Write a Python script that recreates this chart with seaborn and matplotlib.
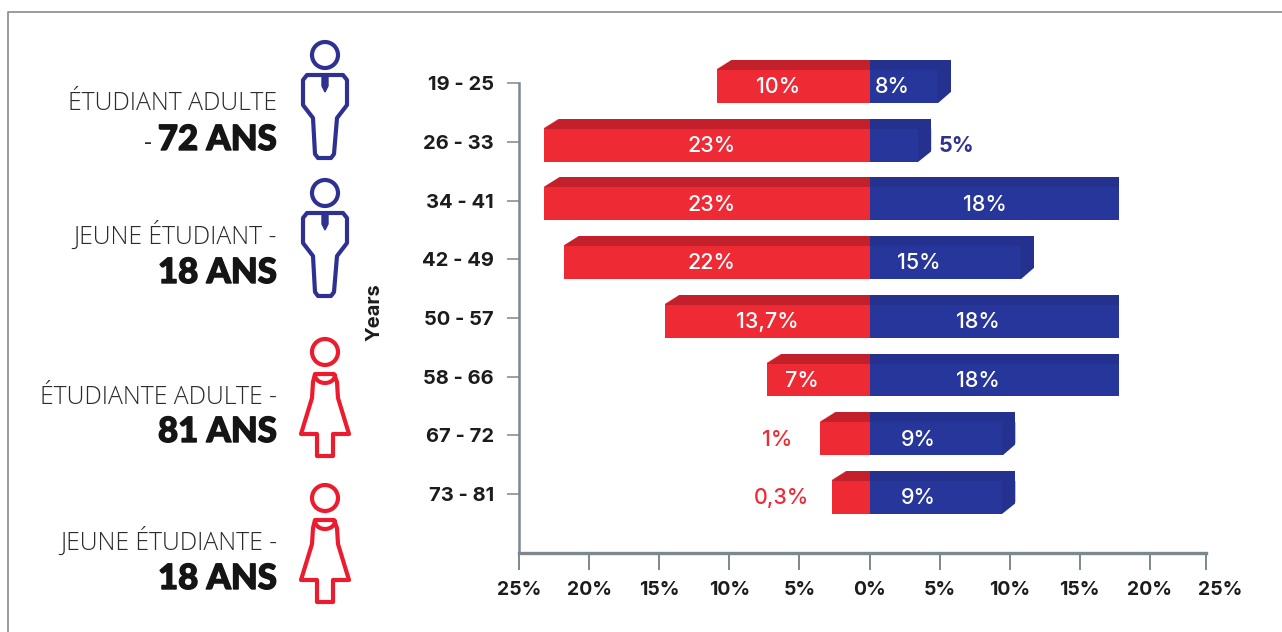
import numpy as np
import matplotlib
matplotlib.use('Agg')
import matplotlib.pyplot as plt
import matplotlib.patheffects as pe
from matplotlib.patches import Circle, Polygon
from matplotlib.lines import Line2D
import seaborn as sns

# values
ages = ['19 - 25', '26 - 33', '34 - 41', '42 - 49', '50 - 57', '58 - 66', '67 - 72', '73 - 81']
red_len = [10.9, 23.2, 23.2, 21.8, 14.6, 7.3, 3.5, 2.7]
blue_len = [5.8, 4.4, 17.8, 11.7, 17.8, 17.8, 10.4, 10.4]
red_labels = ['10%', '23%', '23%', '22%', '13,7%', '7%', '1%', '0,3%']
blue_labels = ['8%', '5%', '18%', '15%', '18%', '18%', '9%', '9%']
x_ticks = [-25, -20, -15, -10, -5, 0, 5, 10, 15, 20, 25]
x_labels = ['25%', '20%', '15%', '10%', '5%', '0%', '5%', '10%', '15%', '20%', '25%']

# label centres along the x axis, not tied to bar length in the original
red_label_x = [-6.5, -11.3, -11.3, -11.3, -7.3, -4.8, -6.6, -6.3]
blue_label_x = [1.6, 6.2, 8.2, 3.5, 7.7, 7.7, 3.5, 3.5]

RED = '#ee2a35'
RED_TOP = '#c2202b'
BLUE = '#26369a'
BLUE_TOP = '#24318e'
GRAY = '#7c888d'
TXT = '#1c1c1c'
NAVY = '#2f3192'
ICON_RED = '#ec1c2e'

sns.set_theme(style='white')
plt.rcParams['font.family'] = ['Inter', 'DejaVu Sans']

fig = plt.figure(figsize=(12.82, 6.32), dpi=100)
ax = fig.add_axes([519 / 1282, (632 - 553) / 632, (1220 - 519) / 1282, (553 - 50) / 632])

sns.barplot(y=ages, x=-np.array(red_len), color=RED, saturation=1, width=0.73, linewidth=0, ax=ax)
sns.barplot(y=ages, x=blue_len, color=BLUE, saturation=1, width=0.73, linewidth=0, ax=ax)

ax.set_xlim(-25, 25)
row = 58.7
ax.set_ylim((553 - 81.5) / row, (50 - 81.5) / row)

# bevels on the bars
half = 0.365
band = 0.17
cut_x = 1.1
for i, (r, b) in enumerate(zip(red_len, blue_len)):
    top = i - half
    bot = i + half
    ax.add_patch(Polygon([(-r + cut_x, top), (0, top), (0, top + band), (-r, top + band)],
                         color=RED_TOP, lw=0, zorder=4))
    ax.add_patch(Polygon([(-r - 0.1, top - 0.01), (-r + cut_x, top - 0.01), (-r - 0.1, top + band)],
                         color='white', lw=0, zorder=4))
    ax.add_patch(Polygon([(0, top), (b, top), (b, top + band), (0, top + band)],
                         color=BLUE_TOP, lw=0, zorder=4))
    if b < 17:
        # side face and clipped lower corner
        ax.add_patch(Polygon([(b - 0.95, top + band), (b, top + band), (b, bot - 0.2), (b - 0.95, bot)],
                             color=BLUE_TOP, lw=0, zorder=4))
        ax.add_patch(Polygon([(b + 0.1, bot - 0.2), (b + 0.1, bot + 0.01), (b - 0.95, bot + 0.01)],
                             color='white', lw=0, zorder=4))

# bar labels
for i in range(len(ages)):
    red_col = RED if red_len[i] < 4 else 'white'
    blue_col = NAVY if blue_len[i] < 5 else 'white'
    ax.text(red_label_x[i], i + 0.1, red_labels[i], color=red_col, fontsize=15.5,
            fontweight='medium', ha='center', va='center', zorder=5)
    ax.text(blue_label_x[i], i + 0.1, blue_labels[i], color=blue_col, fontsize=15.5,
            fontweight='bold' if blue_len[i] < 5 else 'medium', ha='center', va='center', zorder=5)

# axes
sns.despine(ax=ax)
ax.spines['left'].set_color(GRAY)
ax.spines['bottom'].set_color(GRAY)
ax.spines['left'].set_linewidth(1.8)
ax.spines['bottom'].set_linewidth(2.4)
ax.spines['left'].set_bounds(0.03, (553 - 81.5) / row)
ax.spines['bottom'].set_bounds(-25, 24)

ax.set_yticks(np.arange(len(ages)) + 0.03)
ax.set_yticklabels(ages, fontsize=14.5, fontweight='bold', color=TXT)
ax.set_xticks(x_ticks)
ax.set_xticklabels(x_labels, fontsize=14, fontweight='bold', color=TXT)
ax.set_xticks([24], minor=True)
ax.tick_params(axis='y', length=9, width=1.1, color=GRAY, pad=9, left=True)
ax.tick_params(axis='x', which='both', length=12, width=1.4, color=GRAY, pad=8, bottom=True)
# last label sits past the end of the axis line, so its own tick stays hidden
ax.xaxis.get_major_ticks()[-1].tick1line.set_visible(False)
ax.set_xlabel('')
ax.set_ylabel('')

# overlay in pixel coordinates for the icons, captions and frame
ov = fig.add_axes([0, 0, 1, 1], facecolor='none')
ov.set_xlim(0, 1282)
ov.set_ylim(632, 0)
ov.axis('off')


def man(dy):
    kw = dict(fill=False, edgecolor=NAVY, lw=3, joinstyle='round')
    ov.add_patch(Circle((325, 55 + dy), 13, **kw))
    body = [(307, 75), (343, 75), (347, 80), (347, 105), (337, 118), (334, 154), (331, 158),
            (318, 158), (315, 154), (313, 118), (303, 105), (303, 80)]
    ov.add_patch(Polygon([(x, y + dy) for x, y in body], closed=True, **kw))
    tie = [(322, 76), (328, 76), (328, 86), (325, 92), (322, 86)]
    ov.add_patch(Polygon([(x, y + dy) for x, y in tie], closed=True, fill=True,
                         facecolor=NAVY, edgecolor=NAVY, lw=1))


def woman(dy):
    kw = dict(fill=False, edgecolor=ICON_RED, lw=3, joinstyle='round')
    ov.add_patch(Circle((325, 352 + dy), 13, **kw))
    body = [(315, 374), (334, 374), (337, 382), (338, 398), (349, 434), (333, 434), (333, 456),
            (317, 456), (317, 434), (301, 434), (312, 398), (313, 382)]
    ov.add_patch(Polygon([(x, y + dy) for x, y in body], closed=True, **kw))
    t = np.linspace(0, np.pi, 20)
    ov.plot(325 + 10 * np.cos(t), 375 + dy + 8 * np.sin(t), color=ICON_RED, lw=3)


man(0)
man(138)
woman(0)
woman(146)

captions = [('ÉTUDIANT ADULTE', 103, '72 ANS', 140, True),
            ('JEUNE ÉTUDIANT -', 235, '18 ANS', 273, False),
            ('ÉTUDIANTE ADULTE -', 397, '81 ANS', 432, False),
            ('JEUNE ÉTUDIANTE -', 541, '18 ANS', 579, False)]
for line, y1, line2, y2, dash in captions:
    ov.text(277, y1, line, ha='right', va='center', fontsize=17.8, color='#2b2b2b',
            family=['Open Sans', 'DejaVu Sans'], fontweight='light')
    t2 = ov.text(277, y2, line2, ha='right', va='center', fontsize=25, color='#151515',
                 family=['Lato', 'DejaVu Sans'], fontweight='black',
                 path_effects=[pe.withStroke(linewidth=1, foreground='#151515')])
    if dash:
        ov.text(152, y2 + 3, '-', ha='right', va='center', fontsize=17.8, color='#2b2b2b',
                family=['Open Sans', 'DejaVu Sans'])

ov.text(375, 312, 'Years', rotation=90, ha='center', va='center', fontsize=14.5, fontweight='bold', color=TXT)

# frame of the page
ov.add_line(Line2D([8, 8, 1282], [632, 12, 12], color='#8a8a8a', lw=1.2))

fig.savefig('out.png', dpi=100)
